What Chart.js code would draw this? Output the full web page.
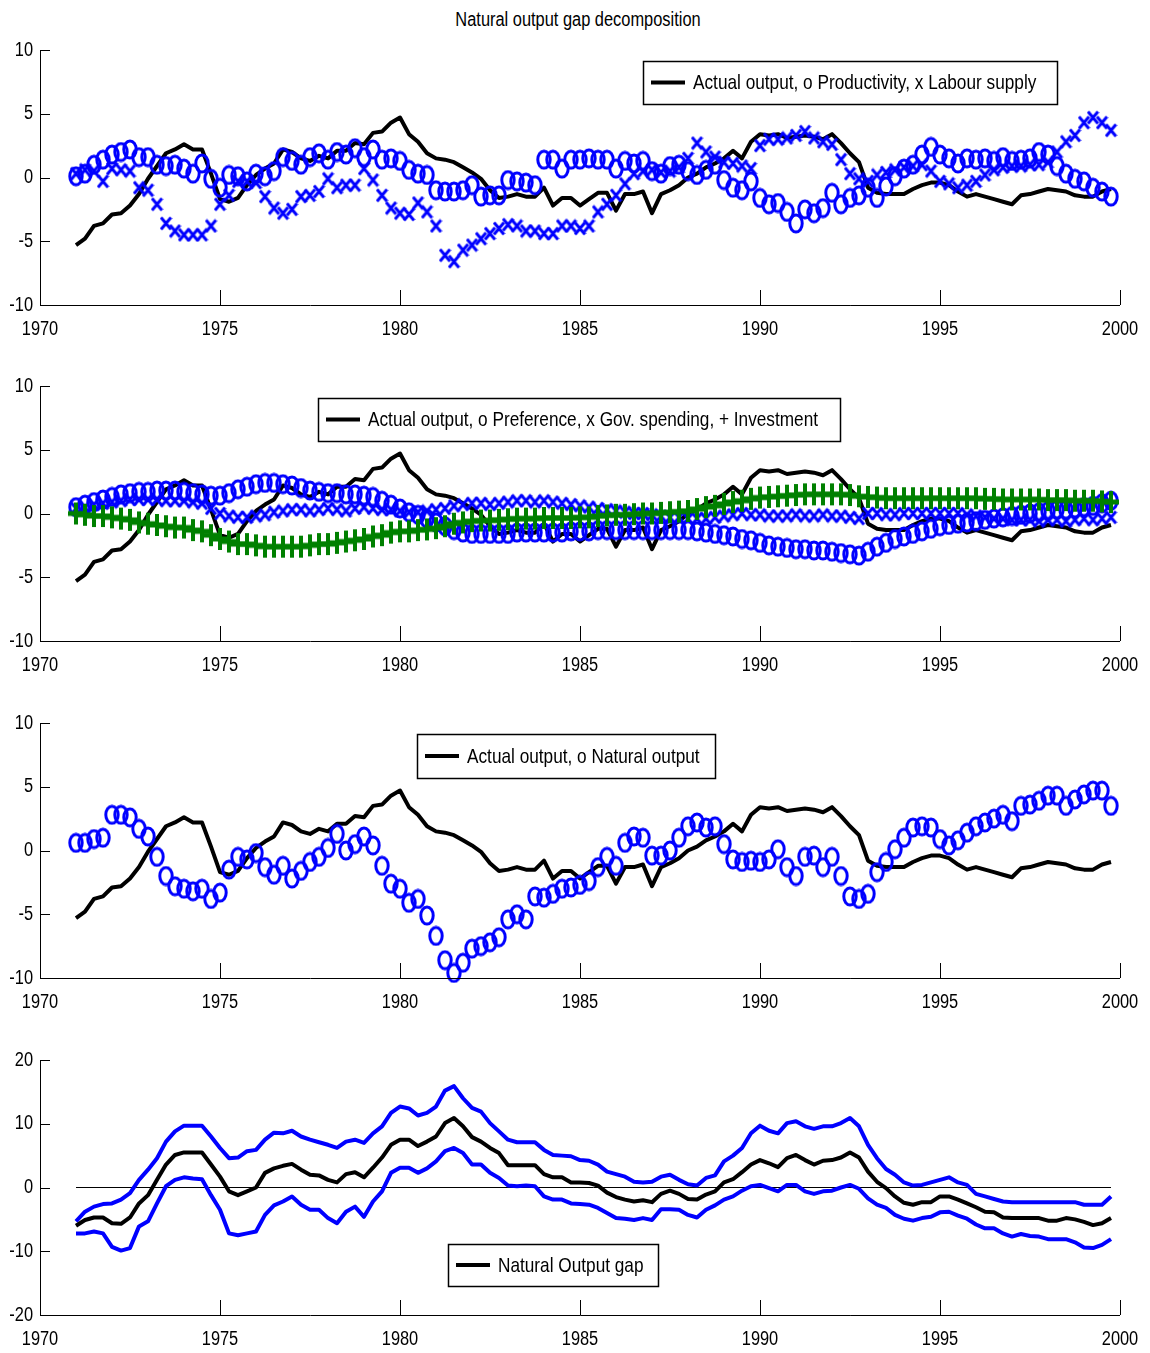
<!DOCTYPE html>
<html>
<head>
<meta charset="utf-8">
<script src="https://cdn.jsdelivr.net/npm/chart.js@4.4.1/dist/chart.umd.min.js"></script>
<style>
  body { margin: 0; background: #fff; width: 1150px; height: 1353px; position: relative; overflow: hidden; }
  canvas { position: absolute; left: 0; }
  #title { position: absolute; top: 8px; left: 0; width: 1156px; text-align: center;
           font: 20px 'Liberation Sans', Arial, sans-serif; color: #000;
           transform: scaleX(0.82); transform-origin: 578px 0; }
</style>
</head>
<body>
<div id="title">Natural output gap decomposition</div>
<canvas id="p1" width="1150" height="340" style="top:0px"></canvas>
<canvas id="p2" width="1150" height="340" style="top:336px"></canvas>
<canvas id="p3" width="1150" height="340" style="top:673px"></canvas>
<canvas id="p4" width="1150" height="340" style="top:1010px"></canvas>
<script>
// quarterly dates 1971Q1 .. 1999Q4
const quarters = Array.from({ length: 116 }, (_, i) => 1971 + i / 4);
const yearTicks = [1970, 1975, 1980, 1985, 1990, 1995, 2000];
const compTicks = [-10, -5, 0, 5, 10];
const gapTicks = [-20, -10, 0, 10, 20];

// actual output gap (same in panels 1-3)
const actualOutput = [
  -5.3, -4.8, -3.8, -3.6, -2.9, -2.8, -2.2, -1.3, -0.1, 0.9, 1.9, 2.2, 2.6, 2.2, 2.2, 0.3,
  -1.7, -1.9, -1.6, -0.6, 0.2, 0.7, 1.1, 2.2, 2.0, 1.5, 1.3, 1.7, 1.5, 2.1, 2.1, 2.7,
  2.6, 3.5, 3.6, 4.3, 4.7, 3.4, 2.8, 1.9, 1.5, 1.4, 1.2, 0.8, 0.4, -0.1, -1.0, -1.6,
  -1.5, -1.3, -1.5, -1.5, -0.8, -2.2, -1.6, -1.6, -2.2, -1.7, -1.2, -1.2, -2.6, -1.3, -1.3, -1.1,
  -2.8, -1.3, -1.0, -0.6, 0.0, 0.3, 0.8, 1.1, 1.5, 2.1, 1.5, 2.8, 3.4, 3.3, 3.4, 3.1,
  3.2, 3.3, 3.2, 3.0, 3.4, 2.7, 1.9, 1.2, -0.8, -1.2, -1.3, -1.3, -1.3, -0.9, -0.6, -0.4,
  -0.4, -0.6, -1.1, -1.5, -1.3, -1.5, -1.7, -1.9, -2.1, -1.4, -1.3, -1.1, -0.9, -1.0, -1.1, -1.4,
  -1.5, -1.5, -1.1, -0.9
];
// panel 1
const productivity = [
  0.1, 0.3, 1.0, 1.4, 1.8, 2.0, 2.2, 1.6, 1.6, 1.0, 0.9, 1.0, 0.7, 0.3, 1.1, -0.1,
  -0.8, 0.2, 0.1, -0.3, 0.3, 0.1, 0.5, 1.6, 1.3, 1.0, 1.6, 1.9, 1.4, 2.0, 1.8, 2.3,
  1.6, 2.2, 1.4, 1.5, 1.3, 0.6, 0.3, 0.2, -1.0, -1.1, -1.1, -1.0, -0.6, -1.5, -1.4, -1.4,
  -0.2, -0.3, -0.4, -0.6, 1.4, 1.4, 0.7, 1.4, 1.4, 1.5, 1.4, 1.4, 0.7, 1.3, 1.1, 1.3,
  0.5, 0.3, 0.9, 1.0, 0.5, 0.2, 0.6, 1.0, -0.2, -0.8, -1.0, -0.3, -1.6, -2.1, -2.0, -2.7,
  -3.6, -2.5, -2.8, -2.4, -1.2, -2.1, -1.6, -1.4, -0.8, -1.6, -0.7, 0.1, 0.7, 1.0, 1.8, 2.4,
  1.8, 1.5, 1.1, 1.5, 1.4, 1.5, 1.3, 1.6, 1.3, 1.4, 1.5, 2.0, 1.8, 0.9, 0.3, -0.1,
  -0.3, -0.8, -1.1, -1.5
];
const labourSupply = [
  0.3, 0.6, 0.5, -0.3, 0.7, 0.6, 0.5, -0.8, -1.0, -2.1, -3.6, -4.2, -4.5, -4.5, -4.5, -3.8,
  -2.1, -1.4, -0.3, -0.3, -0.4, -1.5, -2.4, -2.8, -2.5, -1.5, -1.4, -1.1, -0.1, -0.8, -0.6, -0.6,
  0.7, -0.2, -1.4, -2.4, -2.8, -2.9, -2.0, -2.7, -3.8, -6.1, -6.6, -5.7, -5.3, -4.8, -4.4, -4.0,
  -3.7, -3.8, -4.2, -4.2, -4.4, -4.4, -3.8, -3.8, -4.0, -3.8, -2.7, -2.1, -1.4, -0.5, 0.3, 0.5,
  0.6, 0.4, 0.5, 0.8, 1.5, 2.7, 2.0, 1.6, 1.2, 1.1, 0.9, 0.7, 2.5, 3.0, 3.0, 3.1,
  3.3, 3.6, 3.1, 2.8, 2.6, 1.4, 0.3, -0.1, -0.3, 0.2, 0.4, 0.6, 0.8, 0.9, 1.0, 0.5,
  -0.3, -0.5, -0.8, -0.6, -0.3, 0.2, 0.6, 0.8, 0.9, 0.9, 1.0, 1.0, 1.2, 2.0, 2.8, 3.3,
  4.3, 4.7, 4.3, 3.7
];
// panel 2
const preference = [
  0.5, 0.7, 0.9, 1.1, 1.3, 1.5, 1.6, 1.7, 1.7, 1.8, 1.8, 1.8, 1.7, 1.6, 1.5, 1.4,
  1.4, 1.6, 1.9, 2.1, 2.3, 2.4, 2.4, 2.3, 2.2, 2.0, 1.8, 1.7, 1.6, 1.6, 1.5, 1.5,
  1.4, 1.3, 1.0, 0.7, 0.4, 0.1, -0.1, -0.4, -0.7, -1.0, -1.3, -1.5, -1.6, -1.6, -1.6, -1.6,
  -1.6, -1.5, -1.5, -1.5, -1.5, -1.5, -1.5, -1.4, -1.4, -1.4, -1.3, -1.3, -1.3, -1.3, -1.3, -1.3,
  -1.3, -1.3, -1.3, -1.3, -1.3, -1.4, -1.5, -1.6, -1.7, -1.8, -2.0, -2.1, -2.3, -2.5, -2.6, -2.7,
  -2.8, -2.8, -2.9, -2.9, -3.0, -3.1, -3.2, -3.3, -3.0, -2.6, -2.3, -2.0, -1.8, -1.6, -1.4, -1.2,
  -1.0, -0.9, -0.8, -0.7, -0.6, -0.5, -0.4, -0.3, -0.2, -0.1, 0.0, 0.1, 0.2, 0.3, 0.3, 0.4,
  0.5, 0.6, 0.8, 1.0
];
const govSpending = [
  0.4, 0.5, 0.7, 0.8, 0.9, 1.0, 1.1, 1.1, 1.1, 1.1, 1.0, 1.0, 1.0, 0.9, 0.8, 0.4,
  0.0, -0.2, -0.3, -0.3, -0.2, -0.1, 0.1, 0.2, 0.3, 0.3, 0.2, 0.3, 0.4, 0.3, 0.2, 0.4,
  0.5, 0.4, 0.3, 0.3, 0.2, 0.1, 0.1, 0.2, 0.3, 0.4, 0.6, 0.7, 0.8, 0.8, 0.7, 0.8,
  0.9, 1.0, 1.0, 0.9, 1.0, 0.9, 0.8, 0.7, 0.6, 0.5, 0.4, 0.3, 0.2, 0.1, 0.0, 0.0,
  -0.1, -0.2, -0.3, -0.3, -0.4, -0.4, -0.4, -0.3, -0.2, -0.1, 0.0, -0.1, -0.1, -0.2, -0.2, -0.2,
  -0.1, -0.2, -0.2, -0.1, -0.2, -0.2, -0.3, -0.4, 0.0, 0.0, -0.1, -0.1, 0.0, 0.0, 0.0, 0.0,
  0.0, 0.0, 0.0, -0.1, -0.2, -0.3, -0.4, -0.4, -0.5, -0.5, -0.5, -0.6, -0.5, -0.5, -0.6, -0.5,
  -0.4, -0.5, -0.4, -0.3
];
const investment = [
  0.0, -0.1, -0.2, -0.2, -0.3, -0.4, -0.5, -0.7, -0.8, -0.9, -1.0, -1.1, -1.1, -1.3, -1.4, -1.7,
  -2.0, -2.2, -2.4, -2.4, -2.5, -2.6, -2.6, -2.6, -2.6, -2.6, -2.5, -2.4, -2.4, -2.3, -2.2, -2.1,
  -2.0, -1.8, -1.7, -1.5, -1.4, -1.4, -1.3, -1.25, -1.15, -1.0, -0.8, -0.7, -0.6, -0.55, -0.55, -0.5,
  -0.45, -0.4, -0.4, -0.4, -0.35, -0.35, -0.35, -0.35, -0.3, -0.3, -0.2, -0.15, -0.1, -0.1, -0.05, 0.0,
  0.0, 0.05, 0.1, 0.15, 0.2, 0.35, 0.5, 0.6, 0.75, 0.9, 1.0, 1.15, 1.25, 1.3, 1.35, 1.4,
  1.45, 1.5, 1.5, 1.5, 1.5, 1.5, 1.45, 1.35, 1.3, 1.25, 1.2, 1.2, 1.2, 1.2, 1.2, 1.2,
  1.2, 1.2, 1.2, 1.2, 1.2, 1.15, 1.15, 1.1, 1.1, 1.1, 1.1, 1.1, 1.05, 1.05, 1.05, 1.0,
  1.0, 1.0, 0.95, 0.9
];
// panel 3
const naturalOutput = [
  0.6, 0.6, 0.9, 1.0, 2.8, 2.8, 2.6, 1.7, 1.1, -0.5, -2.0, -2.8, -3.0, -3.2, -3.0, -3.8,
  -3.3, -1.5, -0.5, -0.7, -0.2, -1.3, -1.9, -1.2, -2.2, -1.6, -0.9, -0.5, 0.2, 1.3, 0.0, 0.5,
  1.1, 0.4, -1.2, -2.6, -3.0, -4.1, -3.8, -5.1, -6.7, -8.6, -9.6, -8.8, -7.7, -7.5, -7.2, -6.8,
  -5.4, -5.0, -5.4, -3.6, -3.7, -3.4, -3.0, -2.9, -2.7, -2.4, -1.3, -0.5, -1.2, 0.6, 1.1, 1.0,
  -0.4, -0.4, 0.0, 1.0, 1.9, 2.2, 1.8, 1.9, 0.5, -0.7, -0.9, -0.8, -0.9, -0.7, 0.1, -1.3,
  -2.0, -0.5, -0.4, -1.3, -0.5, -2.0, -3.6, -3.8, -3.4, -1.7, -0.9, 0.1, 1.0, 1.8, 1.9, 1.8,
  0.9, 0.4, 0.8, 1.4, 1.9, 2.2, 2.5, 2.8, 2.3, 3.5, 3.6, 3.9, 4.3, 4.3, 3.5, 4.0,
  4.4, 4.7, 4.7, 3.5
];
// panel 4
const outputGap = [
  -6.0, -5.1, -4.7, -4.7, -5.6, -5.7, -4.7, -2.5, -1.2, 1.2, 3.6, 5.1, 5.5, 5.5, 5.5, 3.6,
  1.7, -0.6, -1.2, -0.6, 0.0, 2.3, 3.0, 3.4, 3.7, 2.8, 2.0, 1.9, 1.2, 0.8, 2.1, 2.4,
  1.6, 3.1, 4.7, 6.7, 7.5, 7.5, 6.5, 7.2, 8.0, 10.1, 10.9, 9.6, 7.9, 7.2, 6.2, 5.4,
  3.5, 3.5, 3.5, 3.5, 2.1, 1.6, 1.6, 0.8, 0.8, 0.7, 0.3, -0.8, -1.5, -1.9, -2.2, -2.0,
  -2.3, -1.0, -0.5, -1.0, -1.8, -1.9, -1.1, -0.6, 0.8, 1.3, 2.4, 3.6, 4.3, 3.8, 3.2, 4.6,
  5.1, 4.3, 3.6, 4.2, 4.3, 4.7, 5.5, 4.7, 2.5, 0.9, -0.1, -1.4, -2.4, -2.7, -2.3, -2.3,
  -1.4, -1.4, -1.9, -2.5, -3.1, -3.8, -3.9, -4.7, -4.8, -4.8, -4.8, -4.8, -5.2, -5.2, -4.8, -5.0,
  -5.4, -5.9, -5.6, -4.8
];
const gapUpper = [
  -5.3, -3.8, -3.0, -2.6, -2.5, -1.9, -0.9, 1.2, 2.8, 4.6, 7.2, 8.8, 9.7, 9.7, 9.7, 8.0,
  6.2, 4.6, 4.7, 5.7, 5.9, 7.5, 8.6, 8.5, 8.9, 8.0, 7.5, 7.1, 6.7, 6.2, 7.2, 7.5,
  7.0, 8.5, 9.6, 11.7, 12.7, 12.4, 11.3, 11.7, 12.7, 15.2, 15.9, 14.0, 12.5, 11.9, 10.1, 8.8,
  7.5, 7.1, 7.1, 7.1, 5.9, 5.1, 5.0, 4.9, 4.3, 4.2, 3.6, 2.5, 2.1, 1.7, 0.9, 0.8,
  0.9, 1.7, 2.0, 1.2, 0.5, 0.3, 1.5, 1.9, 4.1, 5.0, 6.2, 8.5, 9.7, 8.9, 8.5, 10.1,
  10.4, 9.6, 9.2, 9.6, 9.6, 10.1, 10.9, 9.6, 6.7, 4.6, 2.9, 2.0, 0.8, 0.3, 0.4, 0.8,
  1.2, 1.6, 0.8, 0.4, -1.0, -1.4, -1.8, -2.2, -2.3, -2.3, -2.3, -2.3, -2.3, -2.3, -2.3, -2.3,
  -2.7, -2.7, -2.7, -1.4
];
const gapLower = [
  -7.2, -7.2, -6.9, -7.2, -9.3, -9.9, -9.5, -6.1, -5.3, -2.5, 0.2, 1.2, 1.6, 1.4, 1.3, -1.2,
  -3.5, -7.2, -7.5, -7.2, -6.9, -4.3, -2.8, -2.2, -1.4, -2.7, -3.5, -3.5, -4.8, -5.6, -3.8, -3.0,
  -4.6, -2.2, -0.6, 2.3, 3.1, 3.1, 2.3, 3.0, 4.1, 5.7, 6.2, 5.4, 3.6, 3.6, 2.3, 1.5,
  0.3, 0.2, 0.3, 0.2, -1.4, -1.9, -1.9, -2.5, -2.6, -2.7, -3.2, -4.0, -4.8, -4.9, -5.1, -4.8,
  -5.1, -3.4, -3.4, -3.5, -4.3, -4.7, -3.5, -2.8, -1.9, -1.4, -0.5, 0.2, 0.4, -0.1, -0.6, 0.4,
  0.4, -0.6, -1.0, -0.6, -0.5, 0.0, 0.4, -0.2, -1.7, -2.7, -3.2, -4.3, -4.9, -5.2, -4.8, -4.6,
  -3.9, -3.8, -4.4, -4.9, -5.8, -6.4, -6.4, -7.2, -7.7, -7.3, -7.6, -7.7, -8.1, -8.1, -8.1, -8.6,
  -9.4, -9.5, -9.0, -8.1
];
const zeroLine = [0, 0];

const FONT = "'Liberation Sans', Arial, sans-serif";
const NARROW = 0.82;   // the original uses a condensed face
const BLUE = '#0000ff', GREEN = '#008000';

// marker images (MATLAB-like stretched markers)
function marker(w, h, draw) {
  const c = document.createElement('canvas');
  c.width = w; c.height = h;
  draw(c.getContext('2d'));
  return c;
}
const circleMark = marker(16, 21, g => {
  g.strokeStyle = BLUE; g.lineWidth = 3;
  g.beginPath(); g.ellipse(8, 10.5, 6.2, 8.6, 0, 0, Math.PI * 2); g.stroke();
});
const xMark = marker(13, 15, g => {
  g.strokeStyle = BLUE; g.lineWidth = 3;
  g.beginPath();
  g.moveTo(1.5, 1.5); g.lineTo(11.5, 13.5);
  g.moveTo(11.5, 1.5); g.lineTo(1.5, 13.5);
  g.stroke();
});
const plusMark = marker(16, 24, g => {
  g.strokeStyle = GREEN;
  g.lineWidth = 4;
  g.beginPath(); g.moveTo(8, 1); g.lineTo(8, 23); g.stroke();
  g.lineWidth = 5;
  g.beginPath(); g.moveTo(0, 12); g.lineTo(16, 12); g.stroke();
});

const pts = arr => arr.map((v, i) => ({ x: quarters[i], y: v }));

function lineSet(arr, color, order) {
  return { data: pts(arr), borderColor: color, borderWidth: 4, pointRadius: 0,
           tension: 0, fill: false, clip: 6, order: order, borderJoinStyle: 'round' };
}
function markSet(arr, img, order) {
  return { data: pts(arr), showLine: false, pointStyle: img, pointRadius: 7,
           borderColor: BLUE, backgroundColor: BLUE, clip: 14, order: order };
}

function narrowText(ctx, text, x, y, align) {
  ctx.save();
  ctx.translate(x, y);
  ctx.scale(NARROW, 1);
  ctx.textAlign = align;
  ctx.textBaseline = 'middle';
  ctx.fillText(text, 0, 0);
  ctx.restore();
}

// MATLAB style axes: left + bottom line, ticks pointing inward, condensed labels
const matlabAxes = {
  id: 'matlabAxes',
  afterDraw(chart) {
    const { ctx, chartArea: a, scales } = chart;
    ctx.save();
    ctx.strokeStyle = '#000';
    ctx.lineWidth = 1;
    ctx.beginPath();
    ctx.moveTo(a.left + 0.5, a.top); ctx.lineTo(a.left + 0.5, a.bottom + 0.5);
    ctx.lineTo(a.right, a.bottom + 0.5);
    scales.y.ticks.forEach(t => {
      const y = Math.round(scales.y.getPixelForValue(t.value)) + 0.5;
      ctx.moveTo(a.left, y); ctx.lineTo(a.left + 10, y);
    });
    scales.x.ticks.forEach(t => {
      const x = Math.round(scales.x.getPixelForValue(t.value)) + 0.5;
      ctx.moveTo(x, a.bottom); ctx.lineTo(x, a.bottom - 15);
    });
    ctx.stroke();
    ctx.fillStyle = '#000';
    ctx.font = '20px ' + FONT;
    scales.y.ticks.forEach(t => {
      narrowText(ctx, String(t.value), a.left - 7, scales.y.getPixelForValue(t.value), 'right');
    });
    scales.x.ticks.forEach(t => {
      narrowText(ctx, String(t.value), scales.x.getPixelForValue(t.value), a.bottom + 24, 'center');
    });
    ctx.restore();
  }
};

// boxed legend placed inside the plot, like the original
const boxLegend = {
  id: 'boxLegend',
  afterDraw(chart, args, o) {
    if (!o || !o.text) return;
    const ctx = chart.ctx;
    ctx.save();
    ctx.fillStyle = '#fff';
    ctx.fillRect(o.x, o.y, o.w, o.h);
    ctx.strokeStyle = '#000';
    ctx.lineWidth = 1.5;
    ctx.strokeRect(o.x + 0.5, o.y + 0.5, o.w, o.h);
    const cy = o.y + o.h / 2;
    ctx.lineWidth = 4;
    ctx.beginPath(); ctx.moveTo(o.x + 8, cy); ctx.lineTo(o.x + 42, cy); ctx.stroke();
    ctx.fillStyle = '#000';
    ctx.font = '21px ' + FONT;
    narrowText(ctx, o.text, o.x + 50, cy + 1, 'left');
    ctx.restore();
  }
};

function makeChart(id, datasets, yMin, yMax, yTicks, legend) {
  const ctx = document.getElementById(id).getContext('2d');
  return new Chart(ctx, {
    type: 'line',
    data: { datasets: datasets },
    options: {
      responsive: false,
      animation: false,
      devicePixelRatio: 1,
      layout: { padding: { top: 50, right: 30, left: 0, bottom: 0 } },
      plugins: { legend: { display: false }, tooltip: { enabled: false }, boxLegend: legend },
      scales: {
        x: {
          type: 'linear', min: 1970, max: 2000,
          grid: { display: false, drawTicks: false },
          border: { display: false },
          afterBuildTicks: s => { s.ticks = yearTicks.map(v => ({ value: v })); },
          afterFit: s => { s.height = 35; },
          ticks: { display: false }
        },
        y: {
          min: yMin, max: yMax,
          grid: { display: false, drawTicks: false },
          border: { display: false },
          afterBuildTicks: s => { s.ticks = yTicks.map(v => ({ value: v })); },
          afterFit: s => { s.width = 40; },
          ticks: { display: false }
        }
      }
    },
    plugins: [matlabAxes, boxLegend]
  });
}

makeChart('p1', [
  lineSet(actualOutput, '#000', 3),
  markSet(productivity, circleMark, 2),
  markSet(labourSupply, xMark, 1)
], -10, 10, compTicks,
  { x: 643, y: 61, w: 414, h: 43, text: 'Actual output, o Productivity, x Labour supply' });

makeChart('p2', [
  lineSet(actualOutput, '#000', 4),
  markSet(preference, circleMark, 3),
  markSet(govSpending, xMark, 2),
  Object.assign(markSet(investment, plusMark, 1), { borderColor: GREEN, backgroundColor: GREEN })
], -10, 10, compTicks,
  { x: 318, y: 62, w: 522, h: 43, text: 'Actual output, o Preference, x Gov. spending, + Investment' });

makeChart('p3', [
  lineSet(actualOutput, '#000', 2),
  markSet(naturalOutput, circleMark, 1)
], -10, 10, compTicks,
  { x: 417, y: 61, w: 298, h: 44, text: 'Actual output, o Natural output' });

makeChart('p4', [
  Object.assign(lineSet(zeroLine, '#000', 4), {
    data: zeroLine.map((v, i) => ({ x: i === 0 ? quarters[0] : quarters[quarters.length - 1], y: v })),
    borderWidth: 1
  }),
  lineSet(gapUpper, BLUE, 3),
  lineSet(gapLower, BLUE, 2),
  lineSet(outputGap, '#000', 1)
], -20, 20, gapTicks,
  { x: 448, y: 234, w: 210, h: 42, text: 'Natural Output gap' });
</script>
</body>
</html>
